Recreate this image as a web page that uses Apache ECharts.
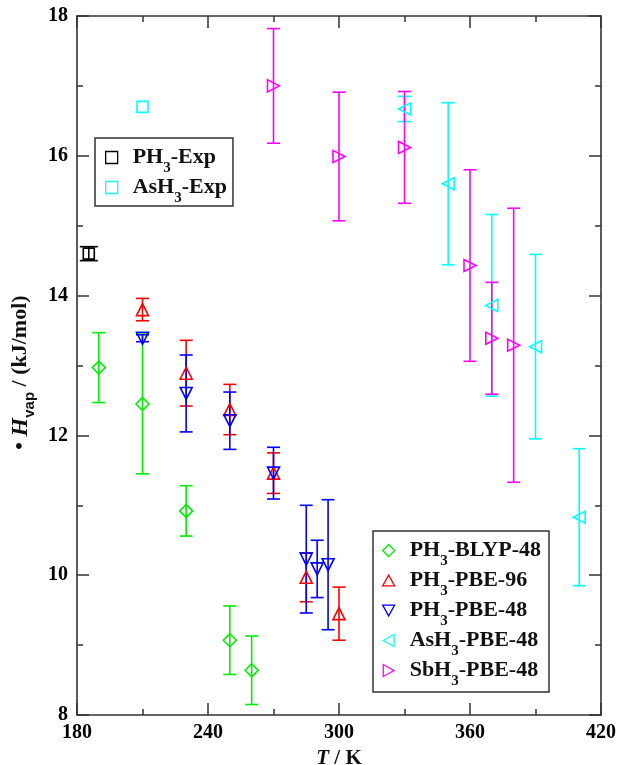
<!DOCTYPE html>
<html><head><meta charset="utf-8">
<script src="https://cdn.jsdelivr.net/npm/echarts@6/dist/echarts.min.js"></script>
<style>html,body{margin:0;padding:0;background:#fff}#c{width:619px;height:765px}</style>
</head><body><div id="c"></div>
<script>
// axis ranges / ticks
const xMin = 180, xMax = 420, xStep = 60;
const yMin = 8, yMax = 18, yStep = 2;
// each point: [T (K), dHvap (kJ/mol), error]
const ph3Exp      = [[185.4, 14.6, 0.1]];
const ash3Exp     = [[210, 16.7, 0]];
const ph3Blyp48   = [[190, 12.97, 0.5], [210, 12.45, 1.0], [230, 10.92, 0.36], [250, 9.07, 0.49], [260, 8.64, 0.49]];
const ph3Pbe96    = [[210, 13.8, 0.16], [230, 12.89, 0.47], [250, 12.37, 0.36], [270, 11.46, 0.29], [285, 9.97, 0.35], [300, 9.45, 0.38]];
const ph3Pbe48    = [[210, 13.39, 0.05], [230, 12.6, 0.55], [250, 12.21, 0.41], [270, 11.46, 0.37], [285, 10.23, 0.77], [290, 10.09, 0.41], [295, 10.15, 0.93]];
const ash3Pbe48   = [[330, 16.67, 0.18], [350, 15.6, 1.16], [370, 13.86, 1.3], [390, 13.27, 1.32], [410, 10.83, 0.98]];
const sbh3Pbe48   = [[270, 17.0, 0.82], [300, 15.99, 0.92], [330, 16.12, 0.8], [360, 14.43, 1.37], [370, 13.39, 0.8], [380, 13.29, 1.96]];

const SERIF = '"Liberation Serif", "Times New Roman", serif';
const chart = echarts.init(document.getElementById('c'));

function errSeries(name, data, color, capW) {
  return {
    type: 'custom', name: name + ' err', data: data, z: 2, silent: true,
    encode: { x: 0, y: 1 },
    renderItem: function (params, api) {
      const x = api.value(0), y = api.value(1), e = api.value(2);
      if (!e) return null;
      const t = api.coord([x, y + e]), b = api.coord([x, y - e]);
      const hw = capW / 2;
      const st = { stroke: color, lineWidth: 1.6 };
      return { type: 'group', children: [
        { type: 'line', shape: { x1: t[0], y1: t[1], x2: b[0], y2: b[1] }, style: st },
        { type: 'line', shape: { x1: t[0] - hw, y1: t[1], x2: t[0] + hw, y2: t[1] }, style: st },
        { type: 'line', shape: { x1: b[0] - hw, y1: b[1], x2: b[0] + hw, y2: b[1] }, style: st }
      ]};
    }
  };
}
function ptSeries(name, data, color, symbol, rot, size) {
  return {
    type: 'scatter', name: name, data: data.map(d => [d[0], d[1]]), z: 3,
    symbol: symbol, symbolRotate: rot, symbolSize: size,
    itemStyle: { color: 'rgba(255,255,255,0)', borderColor: color, borderWidth: 1.6, opacity: 1 }
  };
}
// legend icon shapes
const ICON = {
  rect: 'rect', diamond: 'diamond',
  up: 'path://M5,0L10,9L0,9Z', down: 'path://M0,0L10,0L5,9Z',
  left: 'path://M0,5L9,0L9,10Z', right: 'path://M0,0L9,5L0,10Z'
};
const defs = [
  ['PH3-Exp', ph3Exp, '#000000', 'rect', 0, 11, 18, ICON.rect],
  ['AsH3-Exp', ash3Exp, '#00ffff', 'rect', 0, 11, 13, ICON.rect],
  ['PH3-BLYP-48', ph3Blyp48, '#00ee00', 'diamond', 0, 13, 13, ICON.diamond],
  ['PH3-PBE-96', ph3Pbe96, '#ff0000', 'triangle', 0, 12, 13, ICON.up],
  ['PH3-PBE-48', ph3Pbe48, '#0000ff', 'triangle', 180, 12, 13, ICON.down],
  ['AsH3-PBE-48', ash3Pbe48, '#00ffff', 'triangle', 90, 12, 13, ICON.left],
  ['SbH3-PBE-48', sbh3Pbe48, '#ff00ff', 'triangle', -90, 12, 13, ICON.right]
];
const series = [];
defs.forEach(d => { series.push(errSeries(d[0], d[1], d[2], d[6])); });
defs.forEach(d => { series.push(ptSeries(d[0], d[1], d[2], d[3], d[4], d[5])); });

const labelMap = {
  'PH3-Exp': ['PH', '3', '-Exp'], 'AsH3-Exp': ['AsH', '3', '-Exp'],
  'PH3-BLYP-48': ['PH', '3', '-BLYP-48'], 'PH3-PBE-96': ['PH', '3', '-PBE-96'],
  'PH3-PBE-48': ['PH', '3', '-PBE-48'], 'AsH3-PBE-48': ['AsH', '3', '-PBE-48'],
  'SbH3-PBE-48': ['SbH', '3', '-PBE-48']
};
const legRich = {
  a: { fontFamily: SERIF, fontSize: 22, fontWeight: 'bold', color: '#111', lineHeight: 24 },
  s: { fontFamily: SERIF, fontSize: 15, fontWeight: 'bold', color: '#111', lineHeight: 15, padding: [22, 0, 0, 0] },
  g: { width: 10 }
};
function legFmt(n) { const p = labelMap[n]; return '{g|}{a|' + p[0] + '}{s|' + p[1] + '}{a|' + p[2] + '}'; }
const legendBase = {
  orient: 'vertical', itemWidth: 12, itemHeight: 12, itemGap: -7,
  borderColor: '#333', borderWidth: 1.5, backgroundColor: '#fff',
  formatter: legFmt, textStyle: { rich: legRich }, selectedMode: false,
  itemStyle: { borderWidth: 1.3 }
};
function legItems(names) {
  return names.map(n => { const d = defs.find(q => q[0] === n); return { name: n, icon: d[7] }; });
}

const axisLine = { show: true, onZero: false, lineStyle: { color: '#333', width: 1.6 } };
const tickStyle = { color: '#333', width: 1.5 };
const labelStyle = { fontFamily: SERIF, fontSize: 20, fontWeight: 'bold', color: '#000' };

chart.setOption({
  animation: false,
  grid: { left: 77, top: 16, width: 524, height: 699, outerBoundsMode: 'none', containLabel: false },
  xAxis: [
    { type: 'value', min: xMin, max: xMax, interval: xStep, position: 'bottom',
      axisLine: axisLine, axisTick: { inside: true, length: 12, lineStyle: tickStyle },
      minorTick: { show: true, splitNumber: 2, length: 6, lineStyle: tickStyle },
      splitLine: { show: false }, axisLabel: Object.assign({ margin: 8 }, labelStyle),
      name: '{i|T} / K', nameLocation: 'middle', nameGap: 31,
      nameTextStyle: { fontFamily: SERIF, fontSize: 21, fontWeight: 'bold', color: '#111',
        rich: { i: { fontFamily: SERIF, fontSize: 21, fontWeight: 'bold', fontStyle: 'italic', color: '#111' } } } },
    { type: 'value', min: xMin, max: xMax, interval: xStep, position: 'top',
      axisLine: axisLine, axisTick: { inside: true, length: 12, lineStyle: tickStyle },
      minorTick: { show: true, splitNumber: 2, length: 6, lineStyle: tickStyle },
      splitLine: { show: false }, axisLabel: { show: false } }
  ],
  yAxis: [
    { type: 'value', min: yMin, max: yMax, interval: yStep, position: 'left',
      axisLine: axisLine, axisTick: { inside: true, length: 12, lineStyle: tickStyle },
      minorTick: { show: true, splitNumber: 2, length: 6, lineStyle: tickStyle },
      splitLine: { show: false }, axisLabel: Object.assign({ margin: 9 }, labelStyle),
      name: '{a|\u2022 }{i|H}{s|vap}{a| / (kJ/mol)}', nameLocation: 'middle', nameGap: 40, nameRotate: 90,
      nameTextStyle: { padding: [0, 14, 0, 0], rich: {
        a: { fontFamily: SERIF, fontSize: 22, fontWeight: 'bold', color: '#111', lineHeight: 26 },
        i: { fontFamily: SERIF, fontSize: 24, fontWeight: 'bold', fontStyle: 'italic', color: '#111', lineHeight: 26 },
        s: { fontFamily: '"Liberation Sans", Arial, sans-serif', fontSize: 15, fontWeight: 'bold', color: '#111', lineHeight: 15, padding: [18, 0, 0, 0] }
      } } },
    { type: 'value', min: yMin, max: yMax, interval: yStep, position: 'right',
      axisLine: axisLine, axisTick: { inside: true, length: 12, lineStyle: tickStyle },
      minorTick: { show: true, splitNumber: 2, length: 6, lineStyle: tickStyle },
      splitLine: { show: false }, axisLabel: { show: false } }
  ],
  legend: [
    Object.assign({}, legendBase, { left: 95, top: 138, padding: [1, 6, 0, 10], data: legItems(['PH3-Exp', 'AsH3-Exp']) }),
    Object.assign({}, legendBase, { left: 373, top: 531, padding: [1, 8, 3, 9],
      data: legItems(['PH3-BLYP-48', 'PH3-PBE-96', 'PH3-PBE-48', 'AsH3-PBE-48', 'SbH3-PBE-48']) })
  ],
  series: series
});
</script></body></html>
